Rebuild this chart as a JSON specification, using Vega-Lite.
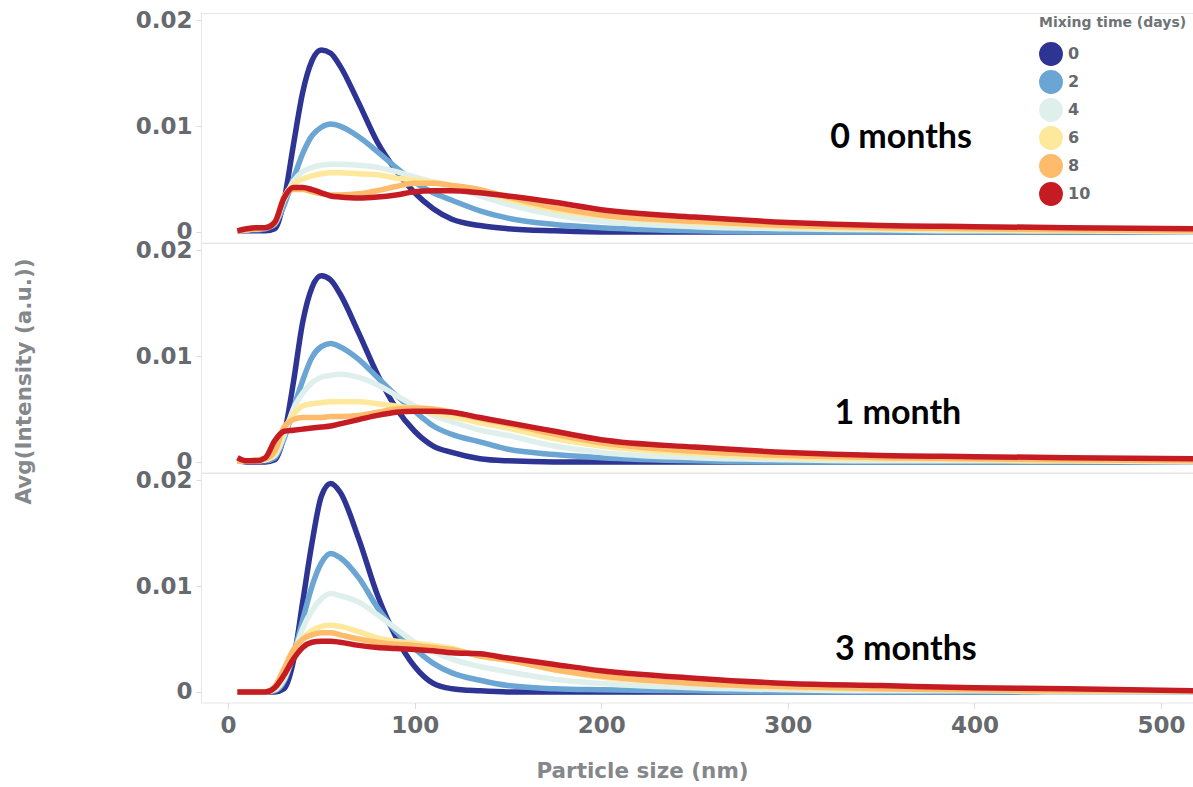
{
  "$schema": "https://vega.github.io/schema/vega-lite/v6.json",
  "background": "white",
  "padding": {"left": 12, "top": 4, "right": 0, "bottom": 0},
  "spacing": 0,
  "bounds": "flush",
  "config": {
    "view": {"stroke": "#e6e6e6", "strokeWidth": 1},
    "font": "DejaVu Sans",
    "axis": {
      "labelFont": "DejaVu Sans", "labelFontWeight": "bold", "labelFontSize": 23, "labelColor": "#66696d",
      "titleFont": "DejaVu Sans", "titleFontWeight": "bold", "titleFontSize": 21.5, "titleColor": "#85888b",
      "grid": false, "domain": false, "tickColor": "#dcdcdc", "labelFlush": false
    }
  },
  "datasets": {
    "p1": [
      {"x":5,"d0":0.0001,"d2":0.0001,"d4":0.0001,"d6":0.0001,"d8":0.0001,"d10":0.0001},
      {"x":10,"d0":0.0001,"d2":0.0002,"d4":0.0002,"d6":0.0002,"d8":0.0002,"d10":0.0003},
      {"x":15,"d0":0.0001,"d2":0.0002,"d4":0.0003,"d6":0.0003,"d8":0.0003,"d10":0.0004},
      {"x":20,"d0":0.0001,"d2":0.0003,"d4":0.0004,"d6":0.0004,"d8":0.0004,"d10":0.0004},
      {"x":25,"d0":0.0003,"d2":0.0007,"d4":0.0008,"d6":0.0009,"d8":0.0009,"d10":0.0009},
      {"x":30,"d0":0.0030,"d2":0.0025,"d4":0.0030,"d6":0.0033,"d8":0.0033,"d10":0.0032},
      {"x":35,"d0":0.0082,"d2":0.0050,"d4":0.0048,"d6":0.0045,"d8":0.0040,"d10":0.0042},
      {"x":40,"d0":0.0132,"d2":0.0074,"d4":0.0057,"d6":0.0050,"d8":0.0040,"d10":0.0042},
      {"x":45,"d0":0.0162,"d2":0.0091,"d4":0.0061,"d6":0.0053,"d8":0.0038,"d10":0.0040},
      {"x":50,"d0":0.0172,"d2":0.0099,"d4":0.0063,"d6":0.0055,"d8":0.0036,"d10":0.0037},
      {"x":55,"d0":0.0169,"d2":0.0102,"d4":0.0064,"d6":0.0056,"d8":0.0035,"d10":0.0034},
      {"x":60,"d0":0.0157,"d2":0.0100,"d4":0.0064,"d6":0.0056,"d8":0.0035,"d10":0.0033},
      {"x":70,"d0":0.0122,"d2":0.0090,"d4":0.0063,"d6":0.0055,"d8":0.0036,"d10":0.0032},
      {"x":80,"d0":0.0085,"d2":0.0076,"d4":0.0061,"d6":0.0054,"d8":0.0039,"d10":0.0033},
      {"x":90,"d0":0.0058,"d2":0.0061,"d4":0.0057,"d6":0.0051,"d8":0.0043,"d10":0.0035},
      {"x":100,"d0":0.0037,"d2":0.0047,"d4":0.0052,"d6":0.0049,"d8":0.0046,"d10":0.0038},
      {"x":110,"d0":0.0022,"d2":0.0037,"d4":0.0047,"d6":0.0047,"d8":0.0046,"d10":0.0039},
      {"x":120,"d0":0.0012,"d2":0.0030,"d4":0.0042,"d6":0.0044,"d8":0.0044,"d10":0.0039},
      {"x":135,"d0":0.0006,"d2":0.0020,"d4":0.0034,"d6":0.0039,"d8":0.0040,"d10":0.0037},
      {"x":150,"d0":0.0003,"d2":0.0013,"d4":0.0026,"d6":0.0031,"d8":0.0033,"d10":0.0034},
      {"x":175,"d0":0.0001,"d2":0.0007,"d4":0.0016,"d6":0.0021,"d8":0.0023,"d10":0.0028},
      {"x":200,"d0":0.0,"d2":0.0004,"d4":0.0010,"d6":0.0015,"d8":0.0016,"d10":0.0021},
      {"x":250,"d0":0.0,"d2":0.0001,"d4":0.0005,"d6":0.0009,"d8":0.0010,"d10":0.0014},
      {"x":300,"d0":0.0,"d2":0.0,"d4":0.0003,"d6":0.0005,"d8":0.0006,"d10":0.0009},
      {"x":350,"d0":0.0,"d2":0.0,"d4":0.0002,"d6":0.0003,"d8":0.0004,"d10":0.0006},
      {"x":400,"d0":0.0,"d2":0.0,"d4":0.0001,"d6":0.0002,"d8":0.0003,"d10":0.0005},
      {"x":450,"d0":0.0,"d2":0.0,"d4":0.0001,"d6":0.0001,"d8":0.0002,"d10":0.0004},
      {"x":520,"d0":0.0,"d2":0.0,"d4":0.0,"d6":0.0001,"d8":0.0001,"d10":0.0003}
    ],
    "p2": [
      {"x":5,"d0":0.0001,"d2":0.0001,"d4":0.0001,"d6":0.0001,"d8":0.0001,"d10":0.0004},
      {"x":10,"d0":0.0,"d2":0.0001,"d4":0.0001,"d6":0.0001,"d8":0.0001,"d10":0.0001},
      {"x":15,"d0":0.0,"d2":0.0001,"d4":0.0001,"d6":0.0001,"d8":0.0002,"d10":0.0001},
      {"x":20,"d0":0.0,"d2":0.0001,"d4":0.0002,"d6":0.0002,"d8":0.0003,"d10":0.0004},
      {"x":25,"d0":0.0002,"d2":0.0004,"d4":0.0006,"d6":0.0008,"d8":0.0010,"d10":0.0020},
      {"x":30,"d0":0.0025,"d2":0.0022,"d4":0.0025,"d6":0.0030,"d8":0.0033,"d10":0.0029},
      {"x":35,"d0":0.0075,"d2":0.0050,"d4":0.0050,"d6":0.0045,"d8":0.0040,"d10":0.0030},
      {"x":40,"d0":0.0132,"d2":0.0077,"d4":0.0065,"d6":0.0053,"d8":0.0042,"d10":0.0031},
      {"x":45,"d0":0.0165,"d2":0.0099,"d4":0.0075,"d6":0.0055,"d8":0.0042,"d10":0.0032},
      {"x":50,"d0":0.0176,"d2":0.0109,"d4":0.0080,"d6":0.0056,"d8":0.0042,"d10":0.0033},
      {"x":55,"d0":0.0172,"d2":0.0112,"d4":0.0082,"d6":0.0057,"d8":0.0043,"d10":0.0034},
      {"x":60,"d0":0.0159,"d2":0.0109,"d4":0.0083,"d6":0.0057,"d8":0.0043,"d10":0.0036},
      {"x":70,"d0":0.0122,"d2":0.0097,"d4":0.0080,"d6":0.0057,"d8":0.0044,"d10":0.0040},
      {"x":80,"d0":0.0083,"d2":0.0080,"d4":0.0073,"d6":0.0055,"d8":0.0047,"d10":0.0044},
      {"x":90,"d0":0.0051,"d2":0.0063,"d4":0.0063,"d6":0.0053,"d8":0.0050,"d10":0.0047},
      {"x":100,"d0":0.0029,"d2":0.0048,"d4":0.0053,"d6":0.0050,"d8":0.0051,"d10":0.0048},
      {"x":110,"d0":0.0015,"d2":0.0034,"d4":0.0044,"d6":0.0046,"d8":0.0050,"d10":0.0048},
      {"x":120,"d0":0.0009,"d2":0.0026,"d4":0.0038,"d6":0.0043,"d8":0.0047,"d10":0.0047},
      {"x":135,"d0":0.0003,"d2":0.0019,"d4":0.0030,"d6":0.0037,"d8":0.0041,"d10":0.0042},
      {"x":150,"d0":0.0001,"d2":0.0012,"d4":0.0025,"d6":0.0032,"d8":0.0036,"d10":0.0037},
      {"x":175,"d0":0.0,"d2":0.0007,"d4":0.0015,"d6":0.0022,"d8":0.0026,"d10":0.0029},
      {"x":200,"d0":0.0,"d2":0.0004,"d4":0.0009,"d6":0.0015,"d8":0.0018,"d10":0.0021},
      {"x":250,"d0":0.0,"d2":0.0001,"d4":0.0004,"d6":0.0008,"d8":0.0010,"d10":0.0014},
      {"x":300,"d0":0.0,"d2":0.0,"d4":0.0002,"d6":0.0004,"d8":0.0006,"d10":0.0009},
      {"x":350,"d0":0.0,"d2":0.0,"d4":0.0001,"d6":0.0003,"d8":0.0004,"d10":0.0006},
      {"x":400,"d0":0.0,"d2":0.0,"d4":0.0001,"d6":0.0002,"d8":0.0003,"d10":0.0005},
      {"x":450,"d0":0.0,"d2":0.0,"d4":0.0001,"d6":0.0001,"d8":0.0002,"d10":0.0004},
      {"x":520,"d0":0.0,"d2":0.0,"d4":0.0,"d6":0.0001,"d8":0.0001,"d10":0.0003}
    ],
    "p3": [
      {"x":5,"d0":0.0,"d2":0.0,"d4":0.0,"d6":0.0,"d8":0.0,"d10":0.0},
      {"x":10,"d0":0.0,"d2":0.0,"d4":0.0,"d6":0.0,"d8":0.0,"d10":0.0},
      {"x":15,"d0":0.0,"d2":0.0,"d4":0.0,"d6":0.0,"d8":0.0,"d10":0.0},
      {"x":20,"d0":0.0,"d2":0.0,"d4":0.0,"d6":0.0,"d8":0.0,"d10":0.0},
      {"x":25,"d0":0.0,"d2":0.0001,"d4":0.0002,"d6":0.0003,"d8":0.0005,"d10":0.0004},
      {"x":30,"d0":0.0003,"d2":0.0010,"d4":0.0012,"d6":0.0015,"d8":0.0022,"d10":0.0016},
      {"x":35,"d0":0.0029,"d2":0.0035,"d4":0.0035,"d6":0.0033,"d8":0.0040,"d10":0.0031},
      {"x":40,"d0":0.0085,"d2":0.0068,"d4":0.0060,"d6":0.0050,"d8":0.0050,"d10":0.0042},
      {"x":45,"d0":0.0141,"d2":0.0100,"d4":0.0077,"d6":0.0058,"d8":0.0054,"d10":0.0047},
      {"x":50,"d0":0.0185,"d2":0.0122,"d4":0.0088,"d6":0.0062,"d8":0.0056,"d10":0.0048},
      {"x":55,"d0":0.0197,"d2":0.0131,"d4":0.0093,"d6":0.0063,"d8":0.0056,"d10":0.0048},
      {"x":60,"d0":0.0189,"d2":0.0127,"d4":0.0091,"d6":0.0062,"d8":0.0054,"d10":0.0047},
      {"x":70,"d0":0.0145,"d2":0.0108,"d4":0.0085,"d6":0.0057,"d8":0.0050,"d10":0.0044},
      {"x":80,"d0":0.0092,"d2":0.0080,"d4":0.0073,"d6":0.0051,"d8":0.0047,"d10":0.0042},
      {"x":90,"d0":0.0052,"d2":0.0057,"d4":0.0060,"d6":0.0048,"d8":0.0045,"d10":0.0041},
      {"x":100,"d0":0.0024,"d2":0.0041,"d4":0.0047,"d6":0.0046,"d8":0.0044,"d10":0.0040},
      {"x":110,"d0":0.0008,"d2":0.0027,"d4":0.0038,"d6":0.0044,"d8":0.0042,"d10":0.0039},
      {"x":120,"d0":0.0003,"d2":0.0018,"d4":0.0031,"d6":0.0041,"d8":0.0040,"d10":0.0037},
      {"x":135,"d0":0.0001,"d2":0.0011,"d4":0.0024,"d6":0.0034,"d8":0.0034,"d10":0.0036},
      {"x":150,"d0":0.0,"d2":0.0006,"d4":0.0019,"d6":0.0030,"d8":0.0030,"d10":0.0032},
      {"x":175,"d0":0.0,"d2":0.0003,"d4":0.0012,"d6":0.0021,"d8":0.0021,"d10":0.0026},
      {"x":200,"d0":0.0,"d2":0.0002,"d4":0.0008,"d6":0.0014,"d8":0.0015,"d10":0.0020},
      {"x":250,"d0":0.0,"d2":0.0001,"d4":0.0004,"d6":0.0008,"d8":0.0008,"d10":0.0013},
      {"x":300,"d0":0.0,"d2":0.0,"d4":0.0002,"d6":0.0004,"d8":0.0005,"d10":0.0008},
      {"x":350,"d0":0.0,"d2":0.0,"d4":0.0001,"d6":0.0003,"d8":0.0003,"d10":0.0006},
      {"x":400,"d0":0.0,"d2":0.0,"d4":0.0001,"d6":0.0002,"d8":0.0002,"d10":0.0004},
      {"x":450,"d0":0.0,"d2":0.0,"d4":0.0,"d6":0.0001,"d8":0.0001,"d10":0.0003},
      {"x":520,"d0":0.0,"d2":0.0,"d4":0.0,"d6":0.0001,"d8":0.0001,"d10":0.0001}
    ]
  },
  "vconcat": [
    {
      "width": 993, "height": 229.5,
      "layer": [
        {
          "data": {"name": "p1"},
          "transform": [{"fold": ["d0","d2","d4","d6","d8","d10"], "as": ["days","val"]}],
          "mark": {"type": "line", "strokeWidth": 5.5, "interpolate": "monotone", "clip": true},
          "encoding": {
            "x": {"field": "x", "type": "quantitative", "scale": {"domain": [-14.5, 517.7], "nice": false, "zero": false}, "axis": null},
            "y": {"field": "val", "type": "quantitative", "scale": {"domain": [-0.001, 0.0207], "nice": false},
                  "axis": {"values": [0, 0.01, 0.02], "format": ".2~f", "title": "Avg(Intensity (a.u.))", "titleOpacity": 0, "tickSize": 5, "labelPadding": 4, "titlePadding": 100}},
            "color": {"field": "days", "type": "nominal",
              "scale": {"domain": ["d0","d2","d4","d6","d8","d10"], "range": ["#2d3494","#6ba5d3","#dff0ec","#fee89c","#fdbb6b","#c51b23"]},
              "legend": {"orient": "none", "legendX": 838, "legendY": 3, "title": "Mixing time (days)",
                "titleFont": "DejaVu Sans", "titleFontSize": 14, "titleFontWeight": "bold", "titleColor": "#6f7276", "titlePadding": 12,
                "labelFont": "DejaVu Sans", "labelFontSize": 16, "labelFontWeight": "bold", "labelColor": "#66696d", "labelOffset": 5,
                "labelExpr": "replace(datum.label, 'd', '')",
                "symbolType": "circle", "symbolSize": 500, "rowPadding": -2,
                "encode": {"symbols": {"update": {"fill": {"scale": "color", "field": "value"}, "fillOpacity": {"value": 1}, "stroke": {"value": "rgba(0,0,0,0.22)"}, "strokeWidth": {"value": 1.5}, "opacity": {"value": 1}}}}}
            }
          }
        },
        {
          "data": {"values": [{}]},
          "mark": {"type": "text", "font": "Lato", "fontSize": 34, "fontWeight": "bold", "color": "black", "align": "center", "baseline": "middle"},
          "encoding": {
            "x": {"datum": 360.7, "type": "quantitative"},
            "y": {"datum": 0.0089, "type": "quantitative"},
            "text": {"value": "0 months"}
          }
        }
      ]
    },
    {
      "width": 993, "height": 229.5,
      "layer": [
        {
          "data": {"name": "p2"},
          "transform": [{"fold": ["d0","d2","d4","d6","d8","d10"], "as": ["days","val"]}],
          "mark": {"type": "line", "strokeWidth": 5.5, "interpolate": "monotone", "clip": true},
          "encoding": {
            "x": {"field": "x", "type": "quantitative", "scale": {"domain": [-14.5, 517.7], "nice": false, "zero": false}, "axis": null},
            "y": {"field": "val", "type": "quantitative", "scale": {"domain": [-0.001, 0.0207], "nice": false},
                  "axis": {"values": [0, 0.01, 0.02], "format": ".2~f", "title": "Avg(Intensity (a.u.))", "titleY": 138, "tickSize": 5, "labelPadding": 4, "titlePadding": 100}},
            "color": {"field": "days", "type": "nominal",
              "scale": {"domain": ["d0","d2","d4","d6","d8","d10"], "range": ["#2d3494","#6ba5d3","#dff0ec","#fee89c","#fdbb6b","#c51b23"]}}
          }
        },
        {
          "data": {"values": [{}]},
          "mark": {"type": "text", "font": "Lato", "fontSize": 34, "fontWeight": "bold", "color": "black", "align": "center", "baseline": "middle"},
          "encoding": {
            "x": {"datum": 359, "type": "quantitative"},
            "y": {"datum": 0.00452, "type": "quantitative"},
            "text": {"value": "1 month"}
          }
        }
      ]
    },
    {
      "width": 993, "height": 229.5,
      "layer": [
        {
          "data": {"name": "p3"},
          "transform": [{"fold": ["d0","d2","d4","d6","d8","d10"], "as": ["days","val"]}],
          "mark": {"type": "line", "strokeWidth": 5.5, "interpolate": "monotone", "clip": true},
          "encoding": {
            "x": {"field": "x", "type": "quantitative", "scale": {"domain": [-14.5, 517.7], "nice": false, "zero": false},
                  "axis": {"values": [0, 100, 200, 300, 400, 500], "title": "Particle size (nm)", "titleX": 441, "tickSize": 6, "labelPadding": 6, "titlePadding": 23}},
            "y": {"field": "val", "type": "quantitative", "scale": {"domain": [-0.001, 0.0207], "nice": false},
                  "axis": {"values": [0, 0.01, 0.02], "format": ".2~f", "title": "Avg(Intensity (a.u.))", "titleOpacity": 0, "tickSize": 5, "labelPadding": 4, "titlePadding": 100}},
            "color": {"field": "days", "type": "nominal",
              "scale": {"domain": ["d0","d2","d4","d6","d8","d10"], "range": ["#2d3494","#6ba5d3","#dff0ec","#fee89c","#fdbb6b","#c51b23"]}}
          }
        },
        {
          "data": {"values": [{}]},
          "mark": {"type": "text", "font": "Lato", "fontSize": 34, "fontWeight": "bold", "color": "black", "align": "center", "baseline": "middle"},
          "encoding": {
            "x": {"datum": 363.3, "type": "quantitative"},
            "y": {"datum": 0.004, "type": "quantitative"},
            "text": {"value": "3 months"}
          }
        }
      ]
    }
  ]
}
